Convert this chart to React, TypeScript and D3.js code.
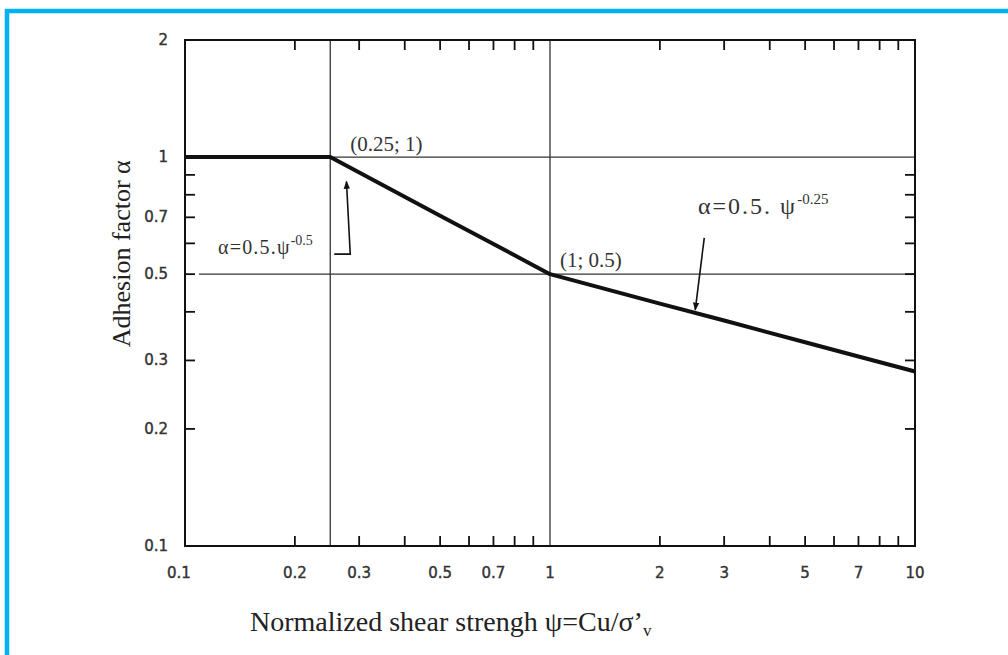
import * as d3 from 'd3';
import React from 'react';

// x axis: normalized shear strength, y axis: adhesion factor (both log)
const xTickLabels = [0.1, 0.2, 0.3, 0.5, 0.7, 1, 2, 3, 5, 7, 10];
const xMinorTicks = [0.2, 0.3, 0.4, 0.5, 0.6, 0.7, 0.8, 0.9, 2, 3, 4, 5, 6, 7, 8, 9];
const yTickLabels = [2, 1, 0.7, 0.5, 0.3, 0.2, 0.1];
const yMinorTicks = [0.2, 0.3, 0.4, 0.5, 0.6, 0.7, 0.8, 0.9];
const gridX = [0.25, 1];
const gridY = [1, 0.5];
// design line: alpha = 1 until 0.25, then 0.5*psi^-0.5, then 0.5*psi^-0.25
const curvePsi = [0.1, 0.25, 0.5, 1, 2, 3, 5, 7, 10];
const curveAlpha = [1, 1, 0.707, 0.5, 0.42, 0.38, 0.334, 0.307, 0.281];

function Chart() {
  const ref = React.useRef(null);

  React.useEffect(() => {
    document.body.style.margin = '0';
    const width = 1008, height = 655;
    const left = 185, right = 915, top = 40, bottom = 546;

    const x = d3.scaleLog().domain([0.1, 10]).range([left, right]);
    const y = d3.scaleLog().domain([0.1, 2]).range([bottom, top]);

    const svg = d3.select(ref.current);
    svg.selectAll('*').remove();
    svg.attr('width', width).attr('height', height);

    svg.append('rect').attr('width', width).attr('height', height).attr('fill', '#fff');

    // blue frame (top + left only)
    svg.append('path')
      .attr('d', 'M7,655 V11 H1008')
      .attr('fill', 'none')
      .attr('stroke', '#00b3f0')
      .attr('stroke-width', 4.5);

    // grid lines
    svg.append('g')
      .selectAll('line')
      .data(gridX)
      .join('line')
        .attr('x1', d => x(d)).attr('x2', d => x(d))
        .attr('y1', top).attr('y2', bottom)
        .attr('stroke', '#333').attr('stroke-width', 1.3);
    svg.append('g')
      .selectAll('line')
      .data(gridY)
      .join('line')
        .attr('x1', d => d === 1 ? left : left + 14).attr('x2', right)
        .attr('y1', d => y(d)).attr('y2', d => y(d))
        .attr('stroke', '#333').attr('stroke-width', 1.3);

    // frame
    svg.append('rect')
      .attr('x', left).attr('y', top)
      .attr('width', right - left).attr('height', bottom - top)
      .attr('fill', 'none').attr('stroke', '#111').attr('stroke-width', 2);

    // inward ticks
    const tk = 10;
    const tg = svg.append('g').attr('stroke', '#111').attr('stroke-width', 1.8);
    tg.selectAll('.tb').data(xMinorTicks).join('line')
      .attr('x1', d => x(d)).attr('x2', d => x(d))
      .attr('y1', bottom).attr('y2', bottom - tk);
    tg.selectAll('.tt').data(xMinorTicks).join('line')
      .attr('x1', d => x(d)).attr('x2', d => x(d))
      .attr('y1', top).attr('y2', top + tk);
    tg.selectAll('.tl').data(yMinorTicks).join('line')
      .attr('x1', left).attr('x2', left + tk)
      .attr('y1', d => y(d)).attr('y2', d => y(d));
    tg.selectAll('.tr').data(yMinorTicks).join('line')
      .attr('x1', right).attr('x2', right - tk)
      .attr('y1', d => y(d)).attr('y2', d => y(d));

    // tick labels
    const sans = 'DejaVu Sans, sans-serif';
    svg.append('g')
      .attr('font-family', sans)
      .attr('font-size', 15)
      .attr('fill', '#333')
      .attr('stroke', '#333').attr('stroke-width', 0.4)
      .attr('text-anchor', 'middle')
      .selectAll('text')
      .data(xTickLabels)
      .join('text')
        .attr('x', d => x(d) - (d === 0.1 ? 6 : 0))
        .attr('y', bottom + 32)
        .text(d => String(d));
    svg.append('g')
      .attr('font-family', sans)
      .attr('font-size', 15)
      .attr('fill', '#333')
      .attr('stroke', '#333').attr('stroke-width', 0.4)
      .attr('text-anchor', 'end')
      .selectAll('text')
      .data(yTickLabels)
      .join('text')
        .attr('x', left - 17)
        .attr('y', d => y(d) + 5)
        .text(d => String(d));

    // design curve
    const pts = curvePsi.map((p, i) => [p, curveAlpha[i]]);
    svg.append('path')
      .datum(pts)
      .attr('d', d3.line().x(d => x(d[0])).y(d => y(d[1])))
      .attr('fill', 'none')
      .attr('stroke', '#111')
      .attr('stroke-width', 4)
      .attr('stroke-linejoin', 'round');

    // annotations
    const serif = 'Liberation Serif, Times New Roman, serif';
    svg.append('text')
      .attr('x', x(0.25) + 20).attr('y', y(1) - 6)
      .attr('font-family', serif).attr('font-size', 21).attr('fill', '#333')
      .text('(0.25; 1)');
    svg.append('text')
      .attr('x', x(1) + 10).attr('y', y(0.5) - 7)
      .attr('font-family', serif).attr('font-size', 21).attr('fill', '#333')
      .text('(1; 0.5)');

    const t1 = svg.append('text')
      .attr('x', 218).attr('y', y(0.5) - 20)
      .attr('font-family', serif).attr('font-size', 20).attr('fill', '#333')
      .attr('letter-spacing', 1.2);
    t1.append('tspan').text('α=0.5.ψ');
    t1.append('tspan').attr('dy', -9).attr('font-size', 14).attr('letter-spacing', 0).text('-0.5');

    const t2 = svg.append('text')
      .attr('x', 698).attr('y', y(0.7) - 3)
      .attr('font-family', serif).attr('font-size', 24).attr('fill', '#333')
      .attr('letter-spacing', 2);
    t2.append('tspan').text('α=0.5. ψ');
    t2.append('tspan').attr('dy', -10).attr('font-size', 15).attr('letter-spacing', 0).text('-0.25');

    svg.append('defs').append('marker')
      .attr('id', 'ah')
      .attr('viewBox', '0 0 10 10')
      .attr('refX', 9).attr('refY', 5)
      .attr('markerWidth', 5).attr('markerHeight', 6)
      .attr('orient', 'auto')
      .append('path').attr('d', 'M0,1 L10,5 L0,9 Z').attr('fill', '#111');

    // arrow to the 0.5*psi^-0.5 segment
    const tip1x = x(0.27) + 4, tip1y = y(0.5 * Math.pow(0.27, -0.5)) + 18;
    svg.append('path')
      .attr('d', `M${x(0.25) + 4},${y(0.5) - 20} H${x(0.25) + 20} L${tip1x},${tip1y}`)
      .attr('fill', 'none').attr('stroke', '#111').attr('stroke-width', 1.6)
      .attr('marker-end', 'url(#ah)');

    // arrow to the 0.5*psi^-0.25 segment
    const tip2x = x(2.5), tip2y = y(0.5 * Math.pow(2.5, -0.25)) - 3;
    svg.append('path')
      .attr('d', `M${tip2x + 9},${tip2y - 72} L${tip2x},${tip2y}`)
      .attr('fill', 'none').attr('stroke', '#111').attr('stroke-width', 1.6)
      .attr('marker-end', 'url(#ah)');

    // axis titles
    const xt = svg.append('text')
      .attr('x', 250).attr('y', 631)
      .attr('font-family', serif).attr('font-size', 28).attr('fill', '#222');
    xt.append('tspan').text('Normalized shear strengh ψ=Cu/σ\u2019');
    xt.append('tspan').attr('dy', 5).attr('font-size', 17).text('v');

    svg.append('text')
      .attr('transform', `translate(130,${(y(1) + y(0.3)) / 2 - 5}) rotate(-90)`)
      .attr('text-anchor', 'middle')
      .attr('font-family', serif).attr('font-size', 26).attr('fill', '#222')
      .text('Adhesion factor α');
  }, []);

  return <svg ref={ref}></svg>;
}

export default function App() {
  return <div style={{ display: 'block' }}><Chart /></div>;
}
